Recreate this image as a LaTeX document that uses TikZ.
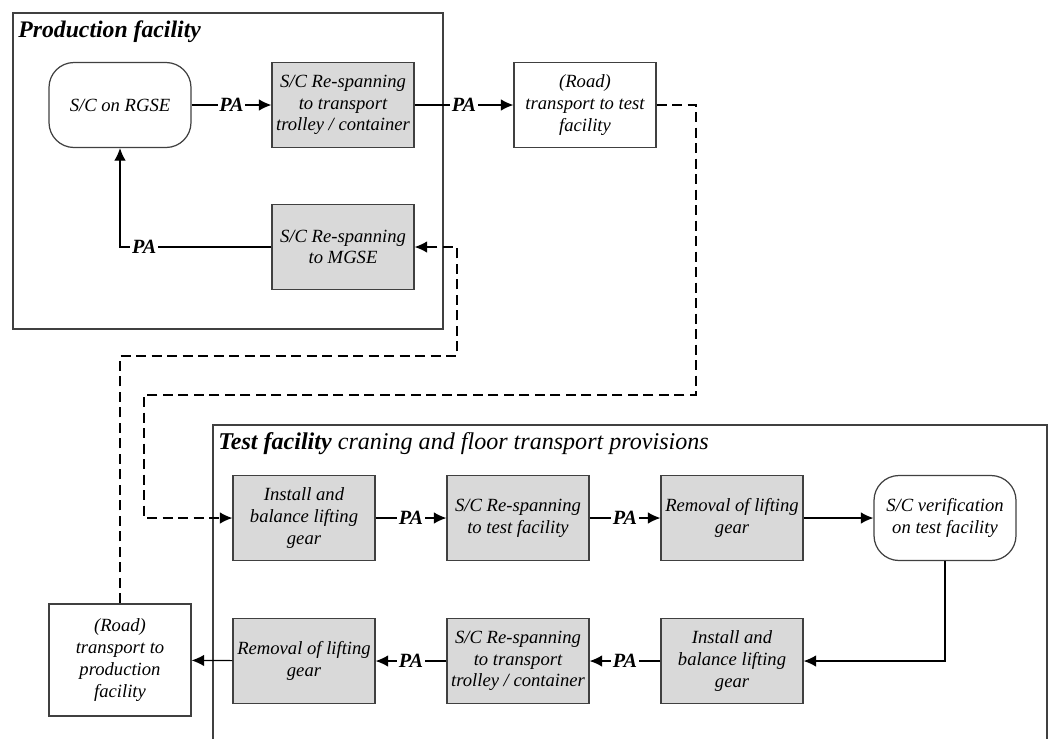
\documentclass[tikz,border=0pt]{standalone}
\usepackage{fontspec}
\setmainfont{Liberation Serif}
\usepackage{tikz}
\usetikzlibrary{arrows.meta}

\definecolor{taskgray}{HTML}{D9D9D9}
\definecolor{edgegray}{HTML}{404040}

\tikzset{
  box/.style={draw=edgegray, line width=0.7pt, minimum width=2.84cm, minimum height=1.7cm,
    align=center, font=\fontsize{10.6}{12.4}\selectfont\itshape, inner sep=1pt},
  task/.style={box, fill=taskgray},
  state/.style={box, rounded corners=0.5cm},
  pa/.style={fill=white, inner sep=1pt, font=\fontsize{11.5}{12}\selectfont\bfseries\itshape},
  flow/.style={-{Latex[length=2.5mm,width=2.3mm]}, line width=0.7pt},
  dashflow/.style={flow, dash pattern=on 2mm off 1.1mm},
  frame/.style={draw=edgegray, line width=0.7pt}
}

\begin{document}
\begin{tikzpicture}[x=0.2mm, y=-0.2mm]
\useasboundingbox (0,0) rectangle (1051,738);

% frames
\draw[frame] (13,13) rectangle (443,329);
\draw[frame] (213,425) rectangle (1047,760);
\node[anchor=west, inner sep=0pt, font=\fontsize{13.5}{15}\selectfont\bfseries\itshape] (prodtitle) at (18,32) {Production facility};
\node[anchor=west, inner sep=0pt, font=\fontsize{13.7}{15}\selectfont\itshape] (testtitle) at (218,444) {\textbf{Test facility} craning and floor transport provisions};

% production facility
\node[state] (rgse) at (120,105) {S/C on RGSE};
\node[task] (respantrolley) at (343,105) {S/C Re-spanning\\to transport\\trolley / container};
\node[task] (mgse) at (343,247) {S/C Re-spanning\\to MGSE};
\node[box] (roadtest) at (585,105) {(Road)\\transport to test\\facility};

% test facility, upper row
\node[task] (installtop) at (304,518) {Install and\\balance lifting\\gear};
\node[task] (respantest) at (518,518) {S/C Re-spanning\\to test facility};
\node[task] (removaltop) at (732,518) {Removal of lifting\\gear};
\node[state] (verify) at (945,518) {S/C verification\\on test facility};

% test facility, lower row
\node[task] (installbot) at (732,661) {Install and\\balance lifting\\gear};
\node[task] (respanbot) at (518,661) {S/C Re-spanning\\to transport\\trolley / container};
\node[task] (removalbot) at (304,661) {Removal of lifting\\gear};
\node[box, minimum height=2.24cm] (roadprod) at (120,660) {(Road)\\transport to\\production\\facility};

% connectors
\draw[flow] (rgse) -- node[pa] {PA} (respantrolley);
\draw[flow] (respantrolley) -- node[pa] {PA} (roadtest);
\draw[flow] (mgse.west) -- (120,247) node[pa, pos=0.84] {PA} -- (rgse.south);
\draw[flow] (installtop) -- node[pa] {PA} (respantest);
\draw[flow] (respantest) -- node[pa] {PA} (removaltop);
\draw[flow] (removaltop) -- (verify);
\draw[flow] (verify.south) |- (installbot.east);
\draw[flow] (installbot) -- node[pa] {PA} (respanbot);
\draw[flow] (respanbot) -- node[pa] {PA} (removalbot);
\draw[flow] (removalbot) -- (roadprod);

% road transport
\draw[dashflow] (roadtest.east) -- (696,105) -- (696,395) -- (144,395) |- (installtop.west);
\draw[dashflow] (roadprod.north) -- (120,356) -- (457,356) |- (mgse.east);

\end{tikzpicture}
\end{document}
